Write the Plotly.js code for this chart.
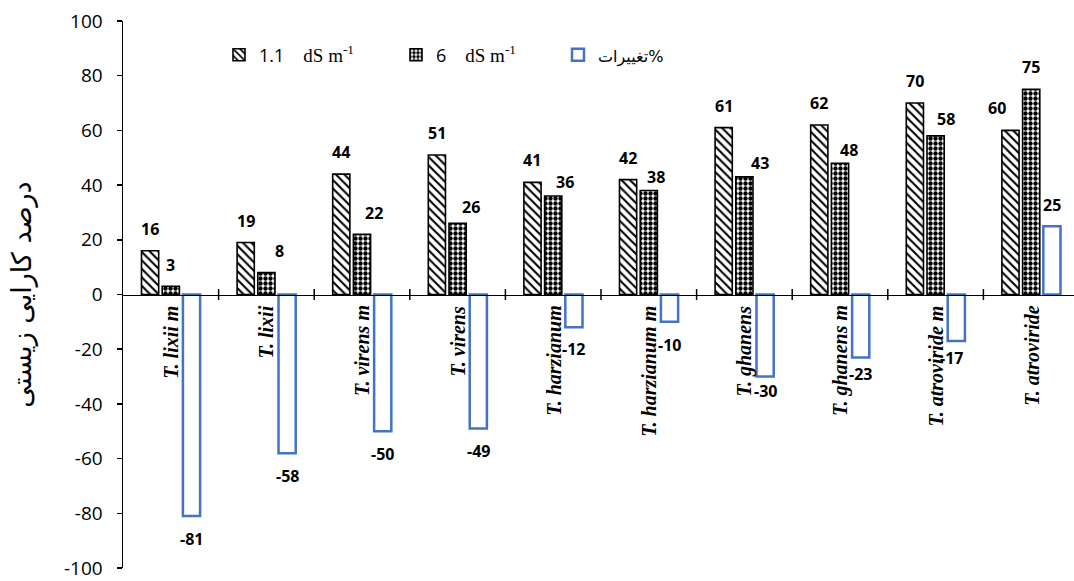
<!DOCTYPE html>
<html>
<head>
<meta charset="utf-8">
<script src="https://cdn.plot.ly/plotly-3.0.1.min.js"></script>
<style>
  html, body { margin: 0; padding: 0; background: #ffffff; }
  #chart { width: 1074px; height: 581px; }
</style>
</head>
<body>
<div id="chart"></div>
<script>
// Isolates (category order along the x axis)
const categories = [
  'T. lixii m', 'T. lixii', 'T. virens m', 'T. virens', 'T. harzianum',
  'T. harzianum m', 'T. ghanens', 'T. ghanens m', 'T. atroviride m', 'T. atroviride'
];

// Biological efficiency (%) at EC 1.1 dS/m and 6 dS/m, and percent change
const ec11 = [16, 19, 44, 51, 41, 42, 61, 62, 70, 60];
const ec6 = [3, 8, 22, 26, 36, 38, 43, 48, 58, 75];
const change = [-81, -58, -50, -49, -12, -10, -30, -23, -17, 25];

// Y axis ticks (plain hyphen for negatives)
const yTickVals = [-100, -80, -60, -40, -20, 0, 20, 40, 60, 80, 100];
const yTickText = ['-100', '-80', '-60', '-40', '-20', '0', '20', '40', '60', '80', '100'];

// Legend names
const nameEc11 = '1.1<span style="font-family:Liberation Serif;font-size:19px">&nbsp;&nbsp;&nbsp; dS m<sup>-1</sup></span>';
const nameEc6 = '6<span style="font-family:Liberation Serif;font-size:19px">&nbsp;&nbsp;&nbsp; dS m<sup>-1</sup></span>';
const nameChange = '<span style="font-family:DejaVu Sans;font-size:16px">تغییرات%</span>';

const yTitle = 'درصد کارایی زیستی';

// Small pixel nudges for individual value labels [dx, dy]
const nudgeEc11 = [[0,0],[0,0],[0,0],[0,0],[0,0],[0,0],[0,0],[0,0],[0,0],[-13,0]];
const nudgeEc6 = [[0,-1],[13,0],[12,-1],[13,-6],[12,-8],[7,-8],[16,-8],[9,-9],[10,-5],[0,0]];
const nudgeChange = [[0,0],[0,0],[0,0],[0,1],[0,1],[0,0],[0,9],[0,6],[-5,6],[0,-1]];

// Geometry of the plot area
const W = 1074, H = 581;
const mL = 123, mR = 0, mT = 21, mB = 13;
const pxPerCat = 95.6;
const xMax = -0.5 + (W - mL - mR) / pxPerCat;
const bargap = 0.35, bargroupgap = 0.17;
const slot = pxPerCat * (1 - bargap) / 3;

const labelFont = { family: 'Open Sans', size: 16, color: '#000000' };

const traces = [
  {
    type: 'bar', x: categories, y: ec11, name: nameEc11, legend: 'legend',
    marker: {
      color: '#ffffff',
      line: { color: '#000000', width: 1.6 },
      pattern: { shape: '\\', fgcolor: '#000000', bgcolor: '#ffffff', size: 6, solidity: 0.35 }
    },
    hoverinfo: 'skip'
  },
  {
    type: 'bar', x: categories, y: ec6, name: nameEc6, legend: 'legend2',
    marker: {
      color: '#ffffff',
      line: { color: '#000000', width: 1.6 },
      pattern: { shape: '.', fgcolor: '#000000', bgcolor: '#ffffff', size: 5, solidity: 0.6 }
    },
    hoverinfo: 'skip'
  },
  {
    type: 'bar', x: categories, y: change, name: nameChange, legend: 'legend3',
    marker: { color: '#ffffff', line: { color: '#4472C4', width: 2.5 } },
    hoverinfo: 'skip'
  }
];

const annotations = [];
function addValueLabels(values, nudges, seriesIndex) {
  values.forEach((v, i) => {
    const base = v >= 0 ? 22 : -23;
    annotations.push({
      x: categories[i], y: v, xref: 'x', yref: 'y',
      text: '<b>' + v + '</b>', showarrow: false,
      xanchor: 'center', yanchor: 'middle',
      xshift: (seriesIndex - 1) * slot + nudges[i][0],
      yshift: base + nudges[i][1],
      font: labelFont
    });
  });
}
addValueLabels(ec11, nudgeEc11, 0);
addValueLabels(ec6, nudgeEc6, 1);
addValueLabels(change, nudgeChange, 2);

// Rotated isolate names hanging under the zero line
categories.forEach(c => {
  annotations.push({
    x: c, y: 0, xref: 'x', yref: 'y',
    text: '<b><i>' + c + '</i></b>', showarrow: false,
    textangle: -90, xanchor: 'center', yanchor: 'top', yshift: -9,
    font: { family: 'Liberation Serif', size: 20, color: '#000000' }
  });
});

// Tick marks crossing the zero line at group boundaries
const shapes = [];
for (let k = 0; k < categories.length - 1; k++) {
  shapes.push({
    type: 'line', xref: 'x', yref: 'y',
    x0: k + 0.5, x1: k + 0.5, y0: -2, y1: 2,
    line: { color: '#000000', width: 1.5 }
  });
}

const legendBase = {
  orientation: 'h', yanchor: 'middle', xanchor: 'left', y: (H - mB - 55) / (H - mT - mB),
  bgcolor: 'rgba(0,0,0,0)', borderwidth: 0,
  font: { family: 'Open Sans', size: 18, color: '#000000' }
};
function legendAt(px) {
  return Object.assign({}, legendBase, { x: (px - mL) / (W - mL - mR) });
}

const layout = {
  width: W, height: H,
  margin: { l: mL, r: mR, t: mT, b: mB, pad: 0 },
  paper_bgcolor: '#ffffff', plot_bgcolor: '#ffffff',
  barmode: 'group', bargap: bargap, bargroupgap: bargroupgap,
  showlegend: true,
  legend: legendAt(219),
  legend2: legendAt(396),
  legend3: legendAt(558),
  xaxis: {
    type: 'category', range: [-0.5, xMax], anchor: 'free', position: 0.5,
    showline: true, linecolor: '#000000', linewidth: 1.5,
    showticklabels: false, ticks: '', showgrid: false, zeroline: false, fixedrange: true
  },
  yaxis: {
    range: [-100, 100], tickmode: 'array', tickvals: yTickVals, ticktext: yTickText,
    showline: true, linecolor: '#000000', linewidth: 1.5,
    ticks: 'outside', ticklen: 5, tickwidth: 1.5, tickcolor: '#000000',
    ticklabelstandoff: 10, ticklabeloverflow: 'allow',
    tickfont: { family: 'Open Sans', size: 19, color: '#000000' },
    showgrid: false, zeroline: false, fixedrange: true,
    title: { text: yTitle, font: { family: 'DejaVu Sans', size: 27, color: '#000000' }, standoff: 24 }
  },
  annotations: annotations,
  shapes: shapes
};

Plotly.newPlot('chart', traces, layout, { staticPlot: true, displayModeBar: false });
</script>
</body>
</html>
